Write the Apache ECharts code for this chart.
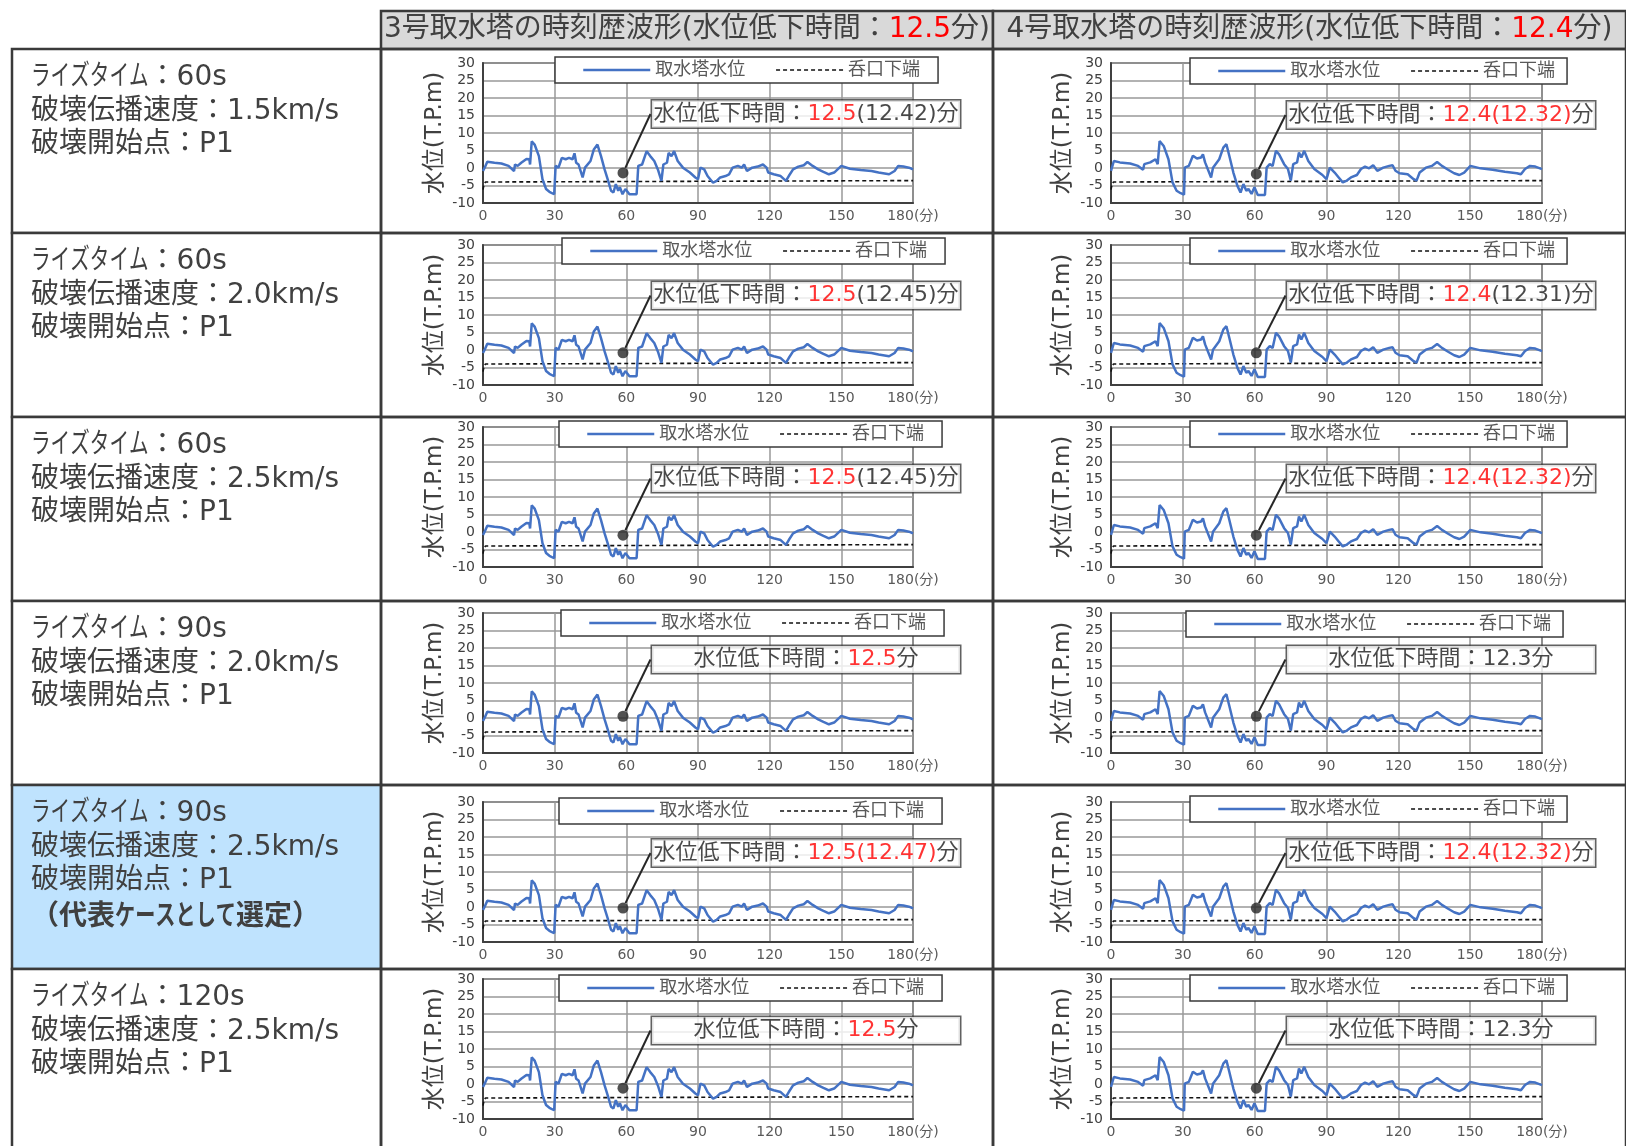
<!DOCTYPE html>
<html>
<head>
<meta charset="utf-8">
<script src="https://cdn.jsdelivr.net/npm/echarts@6/dist/echarts.min.js"></script>
<style>
html, body { margin: 0; padding: 0; background: #ffffff; }
#chart { width: 1626px; height: 1146px; }
</style>
</head>
<body>
<div id="chart"></div>
<script>
// ---- 3号取水塔 水位時刻歴 (経過時間[分], 水位[T.P.m]) ----
const tower3Minutes = [0, 0.7, 1.8, 4.8, 7.7, 10.7, 13, 13.4, 14.5, 16, 18.2, 19.4, 19.7, 20.4, 21.1, 21.6, 22.2, 23.4, 24.9, 26.4,
  27.8, 29.8, 30.4, 31.6, 32.3, 33, 33.8, 34.6, 36, 37.5, 38.3, 39, 40, 41.7, 42.7, 45, 46.4, 47.9, 49.4, 50.9,
  52.4, 53.6, 54.6, 55.6, 56.6, 57.3, 58.4, 59.6, 61.3, 64.3, 65, 66.6, 67.3, 68.5, 70, 71.7, 73.2, 74.7, 75.5, 77,
  77.7, 78.9, 80, 81.5, 83.7, 86.6, 88.9, 90, 91, 92.6, 94, 96.3, 97.8, 99.3, 101.5, 103, 104.5, 106.7, 108.3, 109.3,
  110.5, 112.7, 115, 117.2, 118.7, 119.4, 121.7, 124.6, 126.8, 128, 129.8, 132, 134.3, 135.8, 138, 140.3, 142.5, 144.8, 147, 150,
  153.6, 158.1, 162.6, 165.6, 170, 172.3, 173.8, 176, 178.3, 180];
const tower3Levels = [-0.85, 0.1, 1.8, 1.5, 1.3, 0.6, -0.85, 1.0, 0.6, 1.5, 2.6, 2.5, 1.0, 7.6, 8.1, 6.7, 7.2, 3.4, -3.2, -6.0,
  -6.8, -7.5, 0.6, 0.1, 1.5, 2.9, 3.4, 2.5, 2.9, 2.5, 4.2, 1.5, 1.0, -2.7, 0.1, 2.0, 5.3, 6.7, 3.4, -0.4,
  -3.7, -6.5, -7.0, -4.6, -6.5, -5.5, -7.5, -6.0, -7.5, -7.5, 0.6, 1.0, 0.6, 4.8, 3.4, 2.0, -0.4, -3.7, 1.0, 1.5,
  4.3, 3.4, 4.8, 2.0, 0.1, -1.3, -2.7, -3.2, 0.1, -0.4, -2.3, -4.2, -3.7, -2.7, -2.3, -1.8, 0.1, 0.6, 0.1, 1.0,
  -0.85, 0.1, 0.4, 1.0, 0.1, -1.3, -1.8, -2.3, -3.7, -2.3, -0.4, 0.4, 0.8, 1.7, 0.6, -0.4, -1.1, -1.8, -1.3, 0.6,
  -0.2, -0.6, -0.85, -1.3, -1.8, -0.85, 0.6, 0.4, 0.1, -0.4];

// ---- 4号取水塔 水位時刻歴 ----
const tower4Minutes = [0, 1.2, 3.7, 8, 11.3, 13.4, 13.9, 16.4, 18.6, 19.5, 20.3, 21.1, 22, 22.7, 24, 25.7, 27.4, 29.1, 30.5, 30.8,
  32.5, 34.2, 35.9, 37.6, 38.4, 39.3, 41.8, 42.6, 45.2, 46.9, 48.2, 49.4, 51.1, 52.8, 54.1, 55.3, 56.5, 57.4, 58.7, 59.9,
  61.3, 64.3, 65, 66.3, 67.5, 68.9, 70.2, 72.3, 73.9, 75.1, 76.1, 77.7, 78.5, 79.5, 80.7, 82.4, 84.9, 88.3, 90, 91.4,
  93.4, 95.1, 96.8, 98.5, 100.2, 102.7, 104.4, 106.1, 107.8, 109.5, 111.2, 113.7, 116.2, 117.6, 118.8, 120.5, 123.9, 126.4, 127.6, 128.9,
  131.5, 134, 136.2, 138.2, 140.8, 143.3, 145.5, 147.5, 150.1, 154.3, 159.4, 164.5, 169.5, 171.2, 172.9, 175, 177.2, 180];
const tower4Levels = [-0.8, 2.0, 1.6, 1.3, 0.6, -0.5, 1.1, 1.6, 2.5, 1.1, 7.7, 8.0, 6.3, 6.8, 2.5, -4.1, -6.5, -7.2, -7.6, 0.1,
  0.6, 3.5, 2.7, 3.0, 3.9, 1.6, -2.7, 0.1, 2.5, 5.8, 6.8, 3.5, -1.3, -5.1, -7.0, -4.6, -6.5, -6.0, -7.4, -5.5,
  -7.7, -7.7, 0.1, 1.1, 0.6, 4.9, 3.9, 1.1, -0.3, -3.6, 1.1, 1.6, 4.4, 3.0, 4.9, 2.0, -0.3, -2.0, -3.2, 0.1,
  -1.3, -2.7, -4.1, -3.6, -2.7, -2.0, -0.3, 0.4, -0.1, 0.8, -0.8, 0.1, 0.6, 0.8, -0.8, -1.5, -1.8, -3.2, -3.6, -1.3,
  0.1, 0.6, 1.7, 0.6, -0.5, -1.5, -2.0, -1.3, 0.6, -0.1, -0.5, -1.1, -1.5, -1.8, -0.3, 0.6, 0.4, -0.3];

// ---- 呑口下端 ----
const inletMinutes = [0, 0.4, 1.0, 1.8, 180];
const inletLevels = [-6.2, -4.8, -4.0, -3.6, -3.6];

// ---- 検討ケース ----
const riseTimes = ['60s', '60s', '60s', '90s', '90s', '120s'];
const ruptureSpeeds = ['1.5km/s', '2.0km/s', '2.5km/s', '2.0km/s', '2.5km/s', '2.5km/s'];
const ruptureStarts = ['P1', 'P1', 'P1', 'P1', 'P1', 'P1'];
const representativeCase = 4;

// ---- 水位低下時間 [分] ----
const towerNames = ['3号取水塔', '4号取水塔'];
const headerDrawdown = ['12.5', '12.4'];
const drawdown3 = ['12.5', '12.5', '12.5', '12.5', '12.5', '12.5'];
const drawdown3Exact = ['12.42', '12.45', '12.45', null, '12.47', null];
const drawdown4 = ['12.4', '12.4', '12.4', '12.3', '12.4', '12.3'];
const drawdown4Exact = ['12.32', '12.31', '12.32', null, '12.32', null];
// 赤字表示の指定
const red3 = [true, true, true, true, true, true];
const red3Exact = [false, false, false, false, true, false];
const red4 = [true, true, true, false, true, false];
const red4Exact = [true, false, true, false, true, false];

// ---- 吹出しの指示点 (分, T.P.m) ----
const markerMinutes = [58.6, 60.7];
const markerLevels3 = [-1.4, -0.8, -0.9, 0.5, -0.3, -1.2];
const markerLevels4 = [-1.7, -0.8, -0.9, 0.5, -0.3, -1.2];

// ---- 軸 ----
const xMin = 0, xMax = 180, xStep = 30;
const yMin = -10, yMax = 30, yStep = 5;

// ---- レイアウト (px) ----
const FONT = '"DejaVu Sans", "Noto Sans CJK JP", sans-serif';
const TEXT = '#404040';
const LINE = '#3a3a3a';
const colX = [381, 993];
const colW = [612, 633];
const rowY = [49, 233, 417, 601, 785, 969];
const rowH = 184;
const leftX = 12;
const plotLeft = [483, 1111];
const plotW = [430, 431];
const plotTop = [63, 245, 427, 613, 802, 979];
const plotH = 140;
const legendLeft = [[555, 562, 559, 561, 559, 559], [1190, 1190, 1190, 1186, 1190, 1190]];
const legendTop = [[57, 238, 421, 610, 798, 975], [58, 238, 421, 611, 796, 975]];
const legendPadRight = [18, 12];
const noteCenterX = [806, 1441];
const noteCenterY = [[114, 295.5, 478.5, 659.5, 853, 1030.5], [115, 295.5, 478.5, 659.5, 853, 1030.5]];
const caseTextX = 31;
const caseLineGap = 33.5;

function pairs(xs, ys) { return xs.map((x, i) => [x, ys[i]]); }

function noteText(c, r) {
  const round = c === 0 ? drawdown3[r] : drawdown4[r];
  const exact = c === 0 ? drawdown3Exact[r] : drawdown4Exact[r];
  const rRed = c === 0 ? red3[r] : red4[r];
  const eRed = c === 0 ? red3Exact[r] : red4Exact[r];
  let s = '{t|水位低下時間：}' + (rRed ? '{r|' : '{t|') + round + '}';
  if (exact) s += (eRed ? '{r|' : '{t|') + '(' + exact + ')}';
  return s + '{t|分}';
}

// 吹出し枠の左辺へ引出線をつなぐ
function noteLayout(cx, cy) {
  return function (p) {
    const sx = p.rect.x + p.rect.width / 2;
    const sy = p.rect.y + p.rect.height / 2;
    const w = p.labelRect.width, h = p.labelRect.height;
    const ex = cx - w / 2;
    const ey = cy - h / 2 + h * 0.45;
    return {
      x: cx, y: cy, align: 'center', verticalAlign: 'middle',
      labelLinePoints: [[sx, sy], [sx, sy], [ex, ey]]
    };
  };
}

// 条件欄の文字列: かな部分は詰めて描く
const measureCtx = document.createElement('canvas').getContext('2d');
function textRun(str, x, y, size, weight, family, kanaScale, out) {
  const parts = str.match(/[\u3041-\u30ff]+|[^\u3041-\u30ff]+/g) || [];
  let pos = x;
  parts.forEach(part => {
    const kana = /[\u3041-\u30ff]/.test(part);
    const s = kana ? kanaScale : 1;
    measureCtx.font = weight + ' ' + size + 'px ' + family;
    const w = measureCtx.measureText(part).width;
    out.push({
      type: 'text', z: 1, x: pos, y: y, scaleX: s,
      style: {
        text: part, fontFamily: family, fontSize: size, fontWeight: weight,
        fill: TEXT, align: 'left', verticalAlign: 'middle'
      }
    });
    pos += w * s;
  });
}

const grids = [], xAxes = [], yAxes = [], series = [], legends = [];
let gi = 0;
for (let r = 0; r < 6; r++) {
  for (let c = 0; c < 2; c++) {
    grids.push({
      left: plotLeft[c], top: plotTop[r], width: plotW[c], height: plotH,
      show: true, borderColor: '#4a4a4a', borderWidth: 1.5, backgroundColor: 'transparent',
      outerBoundsMode: 'none'
    });
    xAxes.push({
      type: 'value', gridIndex: gi, min: xMin, max: xMax, interval: xStep,
      axisLine: { show: true, onZero: false, lineStyle: { color: '#404040', width: 2 } },
      axisTick: { show: false },
      axisLabel: {
        fontFamily: FONT, fontSize: 14, color: '#595959', margin: 6,
        formatter: v => (v === xMax ? v + '(分)' : String(v))
      },
      splitLine: { show: true, lineStyle: { color: '#999999', width: 1.5 } }
    });
    yAxes.push({
      type: 'value', gridIndex: gi, min: yMin, max: yMax, interval: yStep,
      name: '水位(T.P.m)', nameLocation: 'middle', nameGap: 36,
      nameTextStyle: { fontFamily: FONT, fontSize: 23, color: TEXT },
      axisLine: { show: true, lineStyle: { color: '#404040', width: 2 } },
      axisTick: { show: false },
      axisLabel: { fontFamily: FONT, fontSize: 14, color: TEXT, margin: 8 },
      splitLine: { show: true, lineStyle: { color: '#999999', width: 1.5 } }
    });
    const wave = c === 0 ? pairs(tower3Minutes, tower3Levels) : pairs(tower4Minutes, tower4Levels);
    series.push({
      name: '取水塔水位', type: 'line', xAxisIndex: gi, yAxisIndex: gi,
      data: wave, symbol: 'none', showSymbol: false,
      lineStyle: { color: '#4472c4', width: 2.5 }, itemStyle: { color: '#4472c4' }, z: 3
    });
    series.push({
      name: '呑口下端', type: 'line', xAxisIndex: gi, yAxisIndex: gi,
      data: pairs(inletMinutes, inletLevels), symbol: 'none', showSymbol: false,
      lineStyle: { color: '#111111', width: 1.6, type: [4, 3] }, itemStyle: { color: '#111111' }, z: 2
    });
    const mLevel = c === 0 ? markerLevels3[r] : markerLevels4[r];
    const cx = noteCenterX[c], cy = noteCenterY[c][r];
    series.push({
      name: '水位低下時間', type: 'scatter', xAxisIndex: gi, yAxisIndex: gi,
      data: [[markerMinutes[c], mLevel]],
      symbol: 'circle', symbolSize: 11, itemStyle: { color: '#262626' }, z: 5,
      label: {
        show: true, formatter: noteText(c, r),
        backgroundColor: '#ffffff', borderColor: '#3a3a3a', borderWidth: 1.5,
        padding: [2, 5, 2, 5], width: 298, align: 'center',
        rich: {
          t: { fontFamily: FONT, fontSize: 22, color: '#1a1a1a', lineHeight: 23 },
          r: { fontFamily: FONT, fontSize: 22, color: '#ff0000', lineHeight: 23 }
        }
      },
      labelLayout: noteLayout(cx, cy),
      labelLine: { show: true, lineStyle: { color: '#262626', width: 2 } }
    });
    legends.push({
      data: [
        { name: '取水塔水位', lineStyle: { width: 2.5, color: '#4472c4' } },
        { name: '呑口下端', lineStyle: { width: 1.6, color: '#111111', type: [4, 3] } }
      ],
      selectedMode: false,
      left: legendLeft[c][r], top: legendTop[c][r], orient: 'horizontal',
      backgroundColor: '#ffffff', borderColor: '#3a3a3a', borderWidth: 1.5,
      padding: [4, legendPadRight[c], 4, 27], itemGap: 30, itemWidth: 67, itemHeight: 14,
      itemStyle: { opacity: 0 },
      textStyle: { fontFamily: FONT, fontSize: 18, color: '#595959' }
    });
    gi++;
  }
}

// ---- 表の罫線・見出し・条件欄 ----
const graphics = [];
for (let c = 0; c < 2; c++) {
  graphics.push({
    type: 'rect', z: 0,
    shape: { x: colX[c], y: 11, width: colW[c], height: rowY[0] - 11 },
    style: { fill: '#d9d9d9', stroke: LINE, lineWidth: 2.5 }
  });
  graphics.push({
    type: 'text', z: 1,
    x: colX[c] + colW[c] / 2, y: 30,
    style: {
      text: '{t|' + towerNames[c] + 'の時刻歴波形(水位低下時間：}{r|' + headerDrawdown[c] + '}{t|分)}',
      align: 'center', verticalAlign: 'middle',
      rich: {
        t: { fontFamily: FONT, fontSize: 28, fill: TEXT },
        r: { fontFamily: FONT, fontSize: 28, fill: '#ff0000' }
      }
    }
  });
}
for (let r = 0; r < 6; r++) {
  graphics.push({
    type: 'rect', z: 0,
    shape: { x: leftX, y: rowY[r], width: colX[0] - leftX, height: rowH },
    style: { fill: r === representativeCase ? '#bfe3fe' : '#ffffff', stroke: LINE, lineWidth: 2.5 }
  });
  for (let c = 0; c < 2; c++) {
    graphics.push({
      type: 'rect', z: 0,
      shape: { x: colX[c], y: rowY[r], width: colW[c], height: rowH },
      style: { fill: 'transparent', stroke: LINE, lineWidth: 2.5 }
    });
  }
  const y0 = rowY[r] + 29;
  textRun('ライズタイム：' + riseTimes[r], caseTextX, y0, 28, 'normal', FONT, 0.7, graphics);
  textRun('破壊伝播速度：' + ruptureSpeeds[r], caseTextX, y0 + caseLineGap, 28, 'normal', FONT, 0.7, graphics);
  textRun('破壊開始点：' + ruptureStarts[r], caseTextX, y0 + caseLineGap * 2, 28, 'normal', FONT, 0.7, graphics);
  if (r === representativeCase) {
    textRun('（代表ケースとして選定）', caseTextX, y0 + caseLineGap * 3, 28, 'bold', '"Noto Sans CJK JP", sans-serif', 0.72, graphics);
  }
}

const chart = echarts.init(document.getElementById('chart'), null, { renderer: 'canvas' });
chart.setOption({
  animation: false,
  backgroundColor: '#ffffff',
  grid: grids,
  xAxis: xAxes,
  yAxis: yAxes,
  legend: legends,
  series: series,
  graphic: { elements: graphics }
});
</script>
</body>
</html>
